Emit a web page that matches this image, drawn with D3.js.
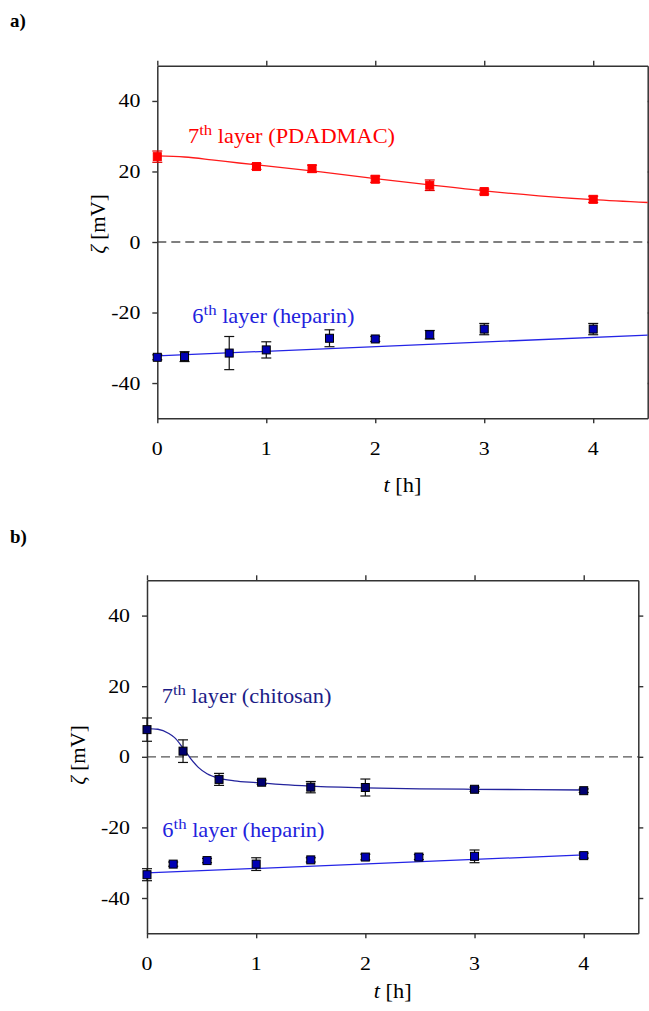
<!DOCTYPE html>
<html>
<head>
<meta charset="utf-8">
<script src="https://cdn.jsdelivr.net/npm/d3@7"></script>
<style>
  body { margin: 0; background: #fff; }
  svg { display: block; font-family: "Liberation Serif", "Times New Roman", serif; }
</style>
</head>
<body>
<svg id="chart" width="649" height="1011"></svg>
<script>
// Shared axis ticks
const tickT = [0, 1, 2, 3, 4];
const tickZeta = [-40, -20, 0, 20, 40];

// Panel a: 7th layer PDADMAC
const aPdadmacT    = [0, 0.91, 1.42, 2, 2.5, 3, 4];
const aPdadmacZeta = [24.2, 21.4, 20.8, 17.8, 16.1, 14.3, 12.1];
const aPdadmacErr  = [1.6, 0.8, 1.0, 0.9, 1.5, 0.7, 0.9];
const aPdadmacFitT = [0, 0.25, 0.5, 0.75, 1, 1.5, 2, 2.5, 3, 3.5, 4, 4.5];
const aPdadmacFit  = [24.4, 24.1, 23.3, 22.4, 21.6, 19.9, 18.0, 16.2, 14.5, 13.1, 12.0, 11.2];

// Panel a: 6th layer heparin
const aHeparinT    = [0, 0.25, 0.66, 1, 1.58, 2, 2.5, 3, 4];
const aHeparinZeta = [-32.7, -32.5, -31.5, -30.6, -27.3, -27.5, -26.3, -24.7, -24.7];
const aHeparinErr  = [0.7, 1.4, 4.7, 2.3, 2.4, 0.7, 1.2, 1.6, 1.6];
const aHeparinFitT = [0, 4.5];
const aHeparinFit  = [-32.3, -26.4];

// Panel b: 7th layer chitosan
const bChitosanT    = [0, 0.33, 0.66, 1.05, 1.5, 2, 3, 4];
const bChitosanZeta = [7.7, 1.6, -6.4, -7.2, -8.6, -8.7, -9.2, -9.6];
const bChitosanErr  = [3.3, 3.2, 1.7, 0.6, 1.6, 2.4, 0.6, 0.5];
const bChitosanFitT = [0, 0.1, 0.2, 0.25, 0.33, 0.4, 0.47, 0.55, 0.66, 0.8, 1, 1.25, 1.5, 2, 2.5, 3, 3.5, 4];
const bChitosanFit  = [8.0, 7.8, 6.6, 5.5, 2.5, -0.5, -3.0, -4.8, -6.1, -6.8, -7.3, -7.9, -8.3, -8.8, -9.1, -9.2, -9.3, -9.4];

// Panel b: 6th layer heparin
const bHeparinT    = [0, 0.24, 0.55, 1, 1.5, 2, 2.49, 3, 4];
const bHeparinZeta = [-33.4, -30.4, -29.4, -30.4, -29.2, -28.4, -28.4, -28.2, -28.0];
const bHeparinErr  = [1.7, 0.6, 0.6, 1.8, 0.6, 0.8, 0.7, 1.8, 0.7];
const bHeparinFitT = [0, 4];
const bHeparinFit  = [-32.9, -27.8];

const svg = d3.select("#chart");
const SX = 1.12;           // horizontal text stretch
const FS = 19.5;           // base font size

function zip(ts, vs, es) {
  return ts.map((t, i) => ({ t, v: vs[i], e: es ? es[i] : 0 }));
}

function txt(g, x, y, str, opts = {}) {
  const t = g.append("text")
    .attr("transform", `translate(${x},${y}) scale(${opts.sx ?? SX},1)`)
    .attr("text-anchor", opts.anchor || "start")
    .attr("font-size", opts.size || FS)
    .attr("fill", opts.fill || "#000");
  if (opts.weight) t.attr("font-weight", opts.weight);
  if (str != null) t.text(str);
  return t;
}

// "Nth layer (name)" annotation with superscript suffix
function layerLabel(g, x, y, num, name, color) {
  const t = txt(g, x, y, null, { fill: color, size: 20 });
  t.append("tspan").text(num);
  t.append("tspan").attr("font-size", 15).attr("dy", -8).text("th");
  t.append("tspan").attr("dy", 8).text(" layer (" + name + ")");
}

function panel(cfg) {
  const { left, top, right, bottom } = cfg.box;
  const x = d3.scaleLinear().domain([0, 4.5]).range([left, right]);
  const y = d3.scaleLinear().domain([-50, 50]).range([bottom, top]);
  const g = svg.append("g");

  // zero reference line
  g.append("line")
    .attr("x1", x(0)).attr("x2", x(4.5))
    .attr("y1", y(0)).attr("y2", y(0))
    .attr("stroke", "#555").attr("stroke-width", 1.3)
    .attr("stroke-dasharray", "9,5");

  // frame axes with outward ticks
  const axStyle = s => s.call(a => a.selectAll("path, line").attr("stroke", "#333").attr("stroke-width", 1.4));
  g.append("g").attr("transform", `translate(0,${bottom})`)
    .call(d3.axisBottom(x).tickValues(tickT).tickSize(5).tickSizeOuter(0).tickFormat(""))
    .call(axStyle);
  g.append("g").attr("transform", `translate(0,${top})`)
    .call(d3.axisTop(x).tickValues(tickT).tickSize(5).tickSizeOuter(0).tickFormat(""))
    .call(axStyle);
  g.append("g").attr("transform", `translate(${left},0)`)
    .call(d3.axisLeft(y).tickValues(tickZeta).tickSize(5).tickSizeOuter(0).tickFormat(""))
    .call(axStyle);
  g.append("g").attr("transform", `translate(${right},0)`)
    .call(d3.axisRight(y).tickValues(tickZeta).tickSize(5).tickSizeOuter(0).tickFormat(""))
    .call(axStyle);
  g.selectAll(".domain").attr("stroke-width", 1.5);

  // tick labels
  tickT.forEach(t => txt(g, x(t), bottom + 36.5, String(t), { anchor: "middle" }));
  tickZeta.forEach(v => txt(g, left - 17, y(v) + 6.5, v < 0 ? "-" + Math.abs(v) : String(v), { anchor: "end" }));

  // axis titles
  const xt = txt(g, (left + right) / 2, cfg.xTitleY, null, { anchor: "middle", size: 20 });
  xt.append("tspan").attr("font-style", "italic").text("t");
  xt.append("tspan").text(" [h]");
  const yt = g.append("text")
    .attr("transform", `translate(${cfg.yTitle[0]},${cfg.yTitle[1]}) rotate(-90)`)
    .attr("text-anchor", "middle").attr("font-size", 21).attr("fill", "#000");
  yt.append("tspan").attr("font-style", "italic").text("ζ");
  yt.append("tspan").text(" [mV]");

  // panel letter
  txt(g, 10, cfg.letterY, cfg.letter, { weight: "bold", size: 18, sx: 1.05 });

  const line = d3.line().x(d => x(d.t)).y(d => y(d.v)).curve(d3.curveMonotoneX);

  cfg.series.forEach(s => {
    g.append("path").datum(zip(s.fitT, s.fit))
      .attr("d", line).attr("fill", "none")
      .attr("stroke", s.lineColor).attr("stroke-width", 1.3);
  });

  cfg.series.forEach(s => {
    const pts = zip(s.t, s.v, s.e);
    const eg = g.append("g").attr("stroke", s.errColor).attr("stroke-width", 1.2);
    pts.forEach(d => {
      const y1 = y(d.v + d.e), y2 = y(d.v - d.e), cx = x(d.t);
      eg.append("line").attr("x1", cx).attr("x2", cx).attr("y1", y1).attr("y2", y2);
      eg.append("line").attr("x1", cx - 5).attr("x2", cx + 5).attr("y1", y1).attr("y2", y1);
      eg.append("line").attr("x1", cx - 5).attr("x2", cx + 5).attr("y1", y2).attr("y2", y2);
    });
    g.append("g").selectAll("rect").data(pts).join("rect")
      .attr("x", d => x(d.t) - 4).attr("y", d => y(d.v) - 4)
      .attr("width", 8).attr("height", 8)
      .attr("fill", s.fill).attr("stroke", s.stroke).attr("stroke-width", 1);
    layerLabel(g, s.labelPos[0], s.labelPos[1], s.num, s.name, s.labelColor);
  });
}

panel({
  box: { left: 157.3, top: 65.7, right: 647.7, bottom: 418.3 },
  letter: "a)", letterY: 27,
  xTitleY: 492, yTitle: [105, 224],
  series: [
    { t: aPdadmacT, v: aPdadmacZeta, e: aPdadmacErr, fitT: aPdadmacFitT, fit: aPdadmacFit,
      fill: "#ff0000", stroke: "#ff0000", errColor: "#e00000", lineColor: "#ff1a1a",
      num: "7", name: "PDADMAC", labelColor: "#ff0000", labelPos: [188, 143.3] },
    { t: aHeparinT, v: aHeparinZeta, e: aHeparinErr, fitT: aHeparinFitT, fit: aHeparinFit,
      fill: "#0000b4", stroke: "#000", errColor: "#111", lineColor: "#2424e6",
      num: "6", name: "heparin", labelColor: "#2222dd", labelPos: [192.3, 323.3] }
  ]
});

panel({
  box: { left: 147, top: 580.3, right: 638.3, bottom: 933.3 },
  letter: "b)", letterY: 543,
  xTitleY: 998, yTitle: [85, 755],
  series: [
    { t: bChitosanT, v: bChitosanZeta, e: bChitosanErr, fitT: bChitosanFitT, fit: bChitosanFit,
      fill: "#000070", stroke: "#000", errColor: "#111", lineColor: "#23239c",
      num: "7", name: "chitosan", labelColor: "#1c1c86", labelPos: [161.7, 703.3] },
    { t: bHeparinT, v: bHeparinZeta, e: bHeparinErr, fitT: bHeparinFitT, fit: bHeparinFit,
      fill: "#0000b4", stroke: "#000", errColor: "#111", lineColor: "#2424e6",
      num: "6", name: "heparin", labelColor: "#2222dd", labelPos: [162.3, 836.7] }
  ]
});
</script>
</body>
</html>
